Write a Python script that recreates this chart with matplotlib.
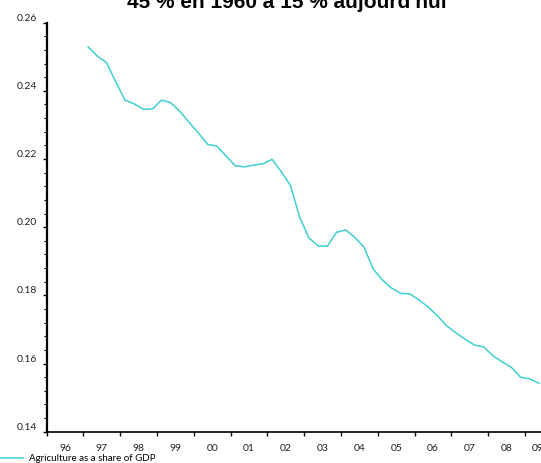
import numpy as np
import matplotlib
matplotlib.use("Agg")
import matplotlib.pyplot as plt
from matplotlib.ticker import MultipleLocator, FixedLocator, NullFormatter

# Données trimestrielles, 1997T1 - 2009T2
start_year = 1997
n_quarters = 50
share = [
    0.2529, 0.2502, 0.2483, 0.2427, 0.2373, 0.2362, 0.2346, 0.2347,
    0.2373, 0.2365, 0.2339, 0.2307, 0.2276, 0.2243, 0.2238, 0.2209,
    0.2180, 0.2177, 0.2182, 0.2186, 0.2199, 0.2163, 0.2122, 0.2029,
    0.1969, 0.1945, 0.1944, 0.1985, 0.1992, 0.1970, 0.1941, 0.1877,
    0.1845, 0.1821, 0.1806, 0.1804, 0.1786, 0.1765, 0.1739, 0.1710,
    0.1690, 0.1671, 0.1654, 0.1649, 0.1623, 0.1605, 0.1589, 0.1560,
    0.1555, 0.1542,
]
years = list(range(1996, 2010))
year_labels = ["96", "97", "98", "99", "00", "01", "02", "03", "04", "05",
               "06", "07", "08", "09"]
title = "45 % en 1960 à 15 % aujourd'hui"
series_label = "Agriculture as a share of GDP"
line_color = "#3fcfd0"

# position au milieu de chaque trimestre
dates = start_year + (np.arange(n_quarters) + 0.5) / 4

fig = plt.figure(figsize=(5.41, 4.63), dpi=100)
# l'axe dépasse le bord droit de la figure (l'étiquette 09 est coupée)
ax = fig.add_axes([0.0863, 0.0676, 1.0386 - 0.0863, 0.951 - 0.0676])

ax.plot(dates, share, color=line_color, lw=1.1, label=series_label)

ax.set_xlim(1996, 2010)
ax.set_ylim(0.14, 0.26)

for s in ["top", "right"]:
    ax.spines[s].set_visible(False)
ax.spines["left"].set_linewidth(1.6)
ax.spines["bottom"].set_linewidth(1.2)

# axe x : traits aux limites d'année, étiquettes au milieu
ax.xaxis.set_major_locator(FixedLocator(years))
ax.xaxis.set_major_formatter(NullFormatter())
ax.xaxis.set_minor_locator(FixedLocator([y + 0.5 for y in years]))
ax.set_xticklabels(year_labels, minor=True)
ax.tick_params(axis="x", which="major", direction="out", length=3, width=1)
ax.tick_params(axis="x", which="minor", length=0, pad=9, labelsize=7.5)
ax.get_xticklabels(minor=True)[-1].set_horizontalalignment("right")

# axe y
ax.yaxis.set_major_locator(MultipleLocator(0.02))
ax.yaxis.set_minor_locator(MultipleLocator(0.004))
ax.yaxis.set_major_formatter(plt.FuncFormatter(lambda v, p: f"{v:.2f}"))
ax.tick_params(axis="y", which="major", direction="out", length=3, width=1,
               labelsize=7.5, pad=4)
ax.tick_params(axis="y", which="minor", direction="out", length=2, width=0.8)
for lab in ax.get_yticklabels():
    lab.set_verticalalignment("bottom")

for lab in ax.get_xticklabels(minor=True) + ax.get_yticklabels():
    lab.set_family(["Lato", "DejaVu Sans"])
    lab.set_color("#222222")

fig.text(0.53, 1 - 8.5 / 463, title, ha="center", va="baseline",
         fontsize=15, fontweight="bold", family=["Liberation Sans", "DejaVu Sans"])

fig.legend(loc="lower left", bbox_to_anchor=(0.0, 0.0), frameon=False,
           borderaxespad=0, borderpad=0, handlelength=2.4, handletextpad=0.6,
           prop={"family": "Lato", "size": 7})

fig.savefig("out.png", dpi=100)
